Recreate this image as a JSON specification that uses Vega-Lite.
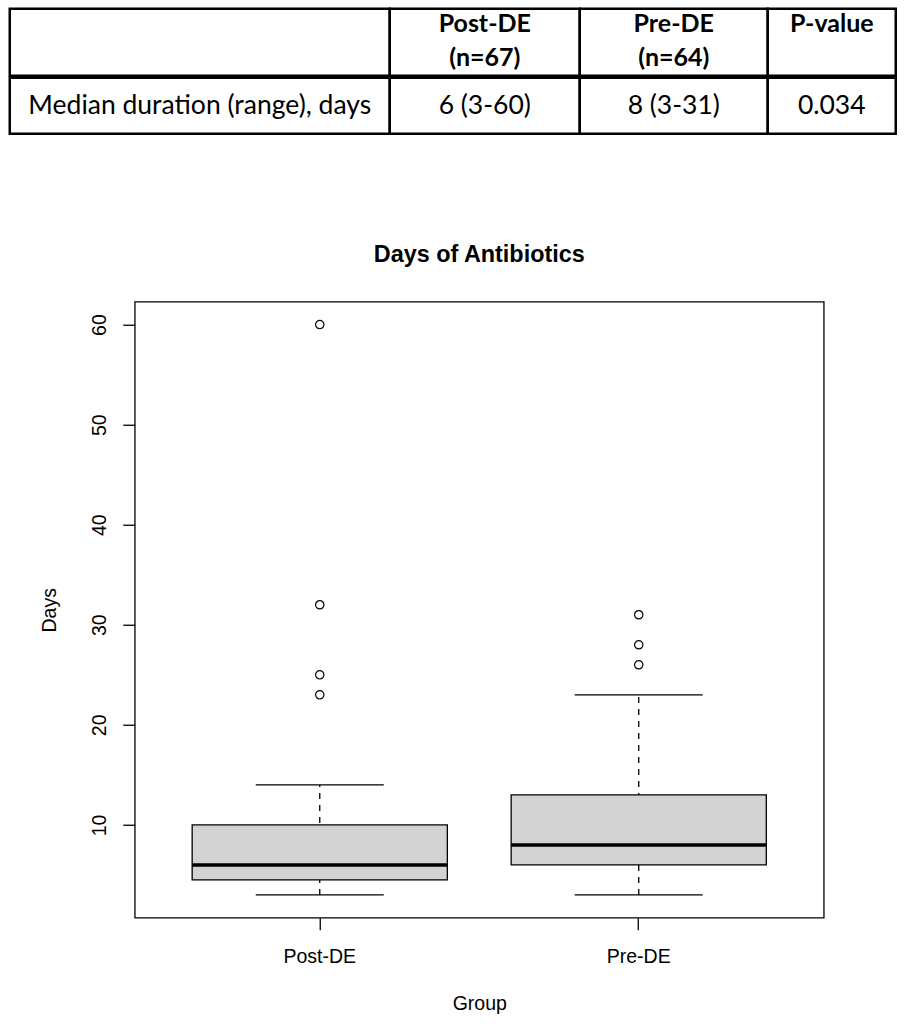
{
  "$schema": "https://vega.github.io/schema/vega-lite/v6.json",
  "padding": {"left": 7.75, "top": 6.75, "right": 0, "bottom": 0},
  "background": "white",
  "datasets": {
    "table": [
      {"row": "header", "column": "label", "text": ""},
      {"row": "header", "column": "post", "text": "Post-DE\n(n=67)"},
      {"row": "header", "column": "pre", "text": "Pre-DE\n(n=64)"},
      {"row": "header", "column": "p", "text": "P-value\n"},
      {"row": "body", "column": "label", "text": "Median duration (range), days"},
      {"row": "body", "column": "post", "text": "6 (3-60)"},
      {"row": "body", "column": "pre", "text": "8 (3-31)"},
      {"row": "body", "column": "p", "text": "0.034"}
    ],
    "summary": [
      {"group": "Post-DE", "lower": 3, "q1": 4.5, "median": 6, "q3": 10, "upper": 14},
      {"group": "Pre-DE", "lower": 3, "q1": 6, "median": 8, "q3": 13, "upper": 23}
    ],
    "outliers": [
      {"group": "Post-DE", "days": 23},
      {"group": "Post-DE", "days": 25},
      {"group": "Post-DE", "days": 32},
      {"group": "Post-DE", "days": 60},
      {"group": "Pre-DE", "days": 26},
      {"group": "Pre-DE", "days": 28},
      {"group": "Pre-DE", "days": 31}
    ]
  },
  "spacing": 106,
  "vconcat": [
    {
      "vconcat": [
        {
          "hconcat": [
            {"width": 380, "height": 67, "view": {"stroke": "black", "strokeWidth": 2.5}, "data": {"name": "table"}, "transform": [{"filter": "datum.row === 'header' && datum.column === 'label'"}], "mark": {"type": "text", "font": "Lato", "fontSize": 25, "fontWeight": "bold", "lineBreak": "\n", "lineHeight": 34, "dy": -18, "color": "black"}, "encoding": {"text": {"field": "text"}}},
            {"width": 190, "height": 67, "view": {"stroke": "black", "strokeWidth": 2.5}, "data": {"name": "table"}, "transform": [{"filter": "datum.row === 'header' && datum.column === 'post'"}], "mark": {"type": "text", "font": "Lato", "fontSize": 25, "fontWeight": "bold", "lineBreak": "\n", "lineHeight": 34, "dy": -18, "color": "black"}, "encoding": {"text": {"field": "text"}}},
            {"width": 188, "height": 67, "view": {"stroke": "black", "strokeWidth": 2.5}, "data": {"name": "table"}, "transform": [{"filter": "datum.row === 'header' && datum.column === 'pre'"}], "mark": {"type": "text", "font": "Lato", "fontSize": 25, "fontWeight": "bold", "lineBreak": "\n", "lineHeight": 34, "dy": -18, "color": "black"}, "encoding": {"text": {"field": "text"}}},
            {"width": 128, "height": 67, "view": {"stroke": "black", "strokeWidth": 2.5}, "data": {"name": "table"}, "transform": [{"filter": "datum.row === 'header' && datum.column === 'p'"}], "mark": {"type": "text", "font": "Lato", "fontSize": 25, "fontWeight": "bold", "lineBreak": "\n", "lineHeight": 34, "dy": -18, "color": "black"}, "encoding": {"text": {"field": "text"}}}
          ],
          "spacing": 0, "bounds": "flush"
        },
        {
          "hconcat": [
            {"width": 380, "height": 56, "view": {"stroke": "black", "strokeWidth": 2.5}, "data": {"name": "table"}, "transform": [{"filter": "datum.row === 'body' && datum.column === 'label'"}], "mark": {"type": "text", "font": "Lato", "fontSize": 26.5, "color": "black"}, "encoding": {"text": {"field": "text"}}},
            {"width": 190, "height": 56, "view": {"stroke": "black", "strokeWidth": 2.5}, "data": {"name": "table"}, "transform": [{"filter": "datum.row === 'body' && datum.column === 'post'"}], "mark": {"type": "text", "font": "Lato", "fontSize": 26.5, "color": "black"}, "encoding": {"text": {"field": "text"}}},
            {"width": 188, "height": 56, "view": {"stroke": "black", "strokeWidth": 2.5}, "data": {"name": "table"}, "transform": [{"filter": "datum.row === 'body' && datum.column === 'pre'"}], "mark": {"type": "text", "font": "Lato", "fontSize": 26.5, "color": "black"}, "encoding": {"text": {"field": "text"}}},
            {"width": 128, "height": 56, "view": {"stroke": "black", "strokeWidth": 2.5}, "data": {"name": "table"}, "transform": [{"filter": "datum.row === 'body' && datum.column === 'p'"}], "mark": {"type": "text", "font": "Lato", "fontSize": 26.5, "color": "black"}, "encoding": {"text": {"field": "text"}}}
          ],
          "spacing": 0, "bounds": "flush"
        }
      ],
      "spacing": -2.5
    },
    {
      "hconcat": [
        {"width": 29, "height": 10, "view": {"stroke": null}, "data": {"values": []}, "mark": "point"},
        {
          "width": 689,
          "height": 616,
          "view": {"stroke": "black", "strokeWidth": 1.3, "fill": null},
          "title": {"text": "Days of Antibiotics", "font": "Liberation Sans", "fontSize": 23.4, "fontWeight": "bold", "color": "black", "anchor": "middle", "baseline": "alphabetic", "offset": 16},
          "layer": [
            {
              "data": {"name": "summary"},
              "mark": {"type": "rule", "strokeDash": [6, 6], "strokeWidth": 1.3, "color": "black"},
              "encoding": {
                "x": {"field": "group", "type": "nominal", "title": "Group", "scale": {"type": "band", "domain": ["Post-DE", "Pre-DE"], "paddingInner": 0, "paddingOuter": 0.08}},
                "y": {"field": "lower", "type": "quantitative", "title": "Days", "scale": {"domain": [0.72, 62.28], "nice": false, "zero": false}, "axis": {"values": [10, 20, 30, 40, 50, 60]}},
                "y2": {"field": "upper"}
              }
            },
            {
              "data": {"name": "summary"},
              "mark": {"type": "bar", "width": {"band": 0.8}, "fill": "#D3D3D3", "stroke": "black", "strokeWidth": 1.3},
              "encoding": {
                "x": {"field": "group", "type": "nominal", "title": "Group"},
                "y": {"field": "q1", "type": "quantitative", "title": "Days"},
                "y2": {"field": "q3"}
              }
            },
            {
              "data": {"name": "summary"},
              "mark": {"type": "tick", "size": 255, "thickness": 3.5, "color": "black", "opacity": 1},
              "encoding": {
                "x": {"field": "group", "type": "nominal", "title": "Group"},
                "y": {"field": "median", "type": "quantitative", "title": "Days"}
              }
            },
            {
              "data": {"name": "summary"},
              "mark": {"type": "tick", "size": 128, "thickness": 1.3, "color": "black", "opacity": 1},
              "encoding": {
                "x": {"field": "group", "type": "nominal", "title": "Group"},
                "y": {"field": "lower", "type": "quantitative", "title": "Days"}
              }
            },
            {
              "data": {"name": "summary"},
              "mark": {"type": "tick", "size": 128, "thickness": 1.3, "color": "black", "opacity": 1},
              "encoding": {
                "x": {"field": "group", "type": "nominal", "title": "Group"},
                "y": {"field": "upper", "type": "quantitative", "title": "Days"}
              }
            },
            {
              "data": {"name": "outliers"},
              "mark": {"type": "point", "shape": "circle", "filled": false, "size": 70, "strokeWidth": 1.2, "color": "black", "opacity": 1},
              "encoding": {
                "x": {"field": "group", "type": "nominal", "title": "Group"},
                "y": {"field": "days", "type": "quantitative", "title": "Days"}
              }
            }
          ]
        }
      ],
      "spacing": 0
    }
  ],
  "config": {
    "view": {"stroke": null},
    "axisX": {"domain": false, "grid": false, "tickColor": "black", "tickSize": 12, "tickWidth": 1.3, "labelAngle": 0, "labelBaseline": "alphabetic", "labelPadding": 33, "labelFont": "Liberation Sans", "labelFontSize": 19.5, "labelColor": "black", "titleFont": "Liberation Sans", "titleFontSize": 19.5, "titleFontWeight": "normal", "titleColor": "black", "titleY": 92, "titleBaseline": "alphabetic"},
    "axisY": {"domain": false, "grid": false, "tickColor": "black", "tickSize": 12, "tickWidth": 1.3, "labelAngle": 270, "labelAlign": "center", "labelBaseline": "alphabetic", "labelPadding": 17, "labelFont": "Liberation Sans", "labelFontSize": 19.5, "labelColor": "black", "titleFont": "Liberation Sans", "titleFontSize": 19.5, "titleFontWeight": "normal", "titleColor": "black", "titleAngle": 270, "titleX": -79, "titleY": 308, "titleAlign": "center", "titleBaseline": "alphabetic"}
  }
}
